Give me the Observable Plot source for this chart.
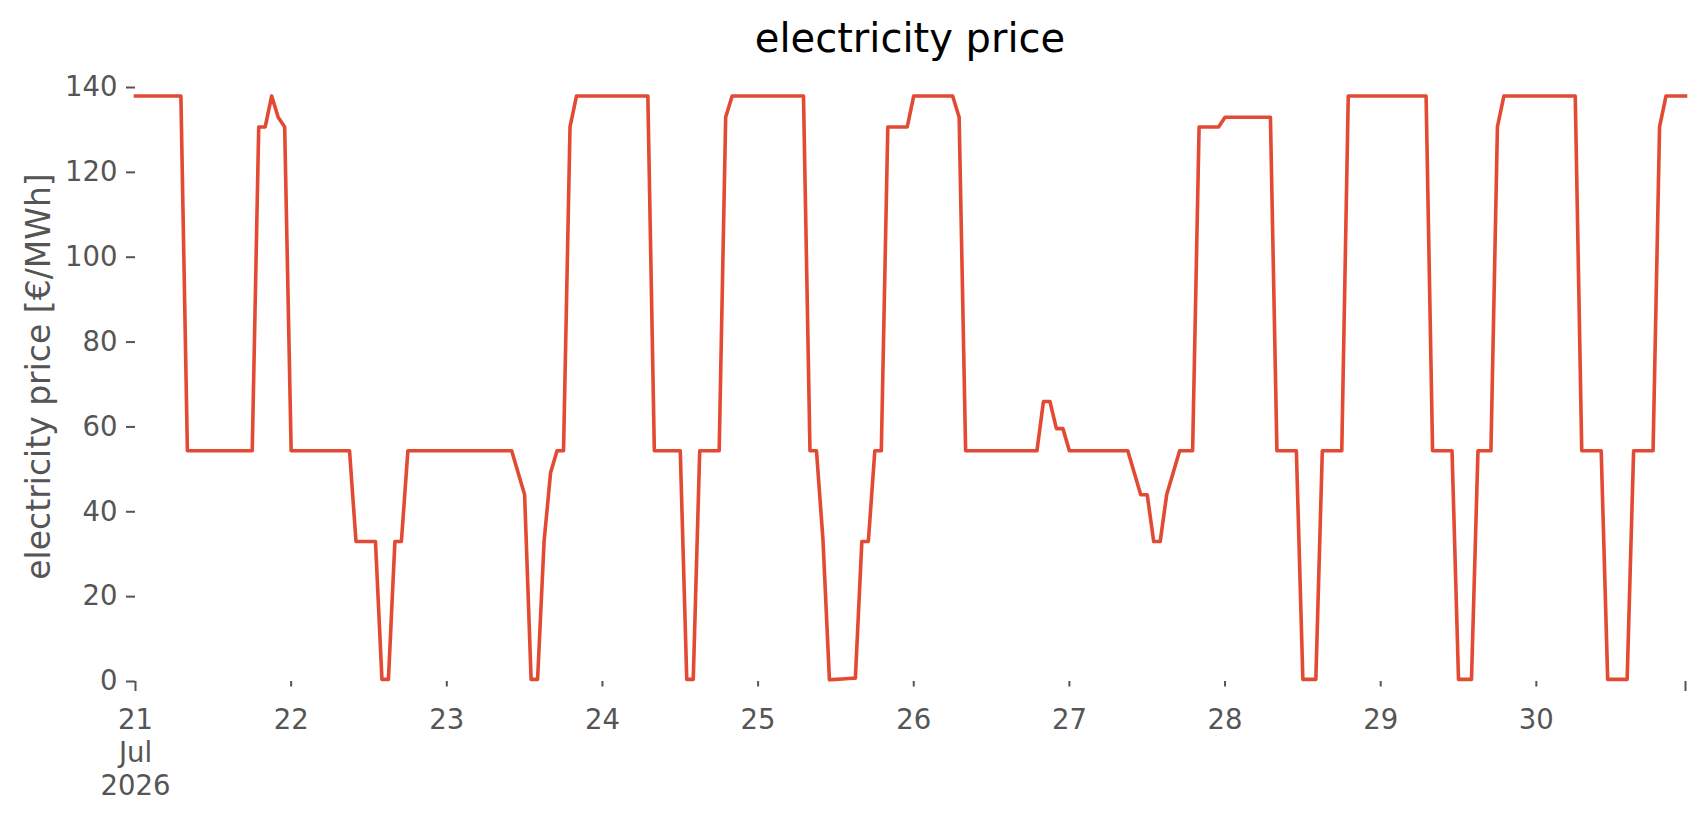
<!DOCTYPE html>
<html>
<head>
<meta charset="utf-8">
<script src="https://cdn.jsdelivr.net/npm/d3@7"></script>
<script src="https://cdn.jsdelivr.net/npm/@observablehq/plot@0.6"></script>
<style>
  html, body { margin: 0; padding: 0; background: #fff; }
  #title {
    margin-left: 135px; width: 1550px; height: 66px; line-height: 76px;
    text-align: center; font-family: "DejaVu Sans", sans-serif; font-size: 40px; color: #000;
    white-space: nowrap;
  }
  #chart svg { display: block; }
</style>
</head>
<body>
<div id="title">electricity price</div>
<div id="chart"></div>
<script>
// Hourly electricity prices [€/MWh], one array per day, starting 21 Jul 2026 00:00
const jul21 = [138,138,138,138,138,138,138,138, 54.4,54.4,54.4,54.4,54.4,54.4,54.4,54.4,54.4,54.4,54.4, 130.7,130.7,138,133,130.7];
const jul22 = [54.4,54.4,54.4,54.4,54.4,54.4,54.4,54.4,54.4,54.4, 33,33,33,33, 0.5,0.5, 33,33, 54.4,54.4,54.4,54.4,54.4,54.4];
const jul23 = [54.4,54.4,54.4,54.4,54.4,54.4,54.4,54.4,54.4,54.4,54.4, 49.2,44, 0.5,0.5, 33,49.2, 54.4,54.4, 130.7, 138,138,138,138];
const jul24 = [138,138,138,138,138,138,138,138, 54.4,54.4,54.4,54.4,54.4, 0.5,0.5, 54.4,54.4,54.4,54.4, 133, 138,138,138,138];
const jul25 = [138,138,138,138,138,138,138,138, 54.4,54.4, 33.5, 0.4,0.5,0.6,0.7,0.8, 33,33, 54.4,54.4, 130.7,130.7,130.7,130.7];
const jul26 = [138,138,138,138,138,138,138, 133, 54.4,54.4,54.4,54.4,54.4,54.4,54.4,54.4,54.4,54.4,54.4,54.4, 66,66, 59.6,59.6];
const jul27 = [54.4,54.4,54.4,54.4,54.4,54.4,54.4,54.4,54.4,54.4, 49.2,44,44, 33,33, 44,49.2, 54.4,54.4,54.4, 130.7,130.7,130.7,130.7];
const jul28 = [133,133,133,133,133,133,133,133, 54.4,54.4,54.4,54.4, 0.5,0.5,0.5, 54.4,54.4,54.4,54.4, 138,138,138,138,138];
const jul29 = [138,138,138,138,138,138,138,138, 54.4,54.4,54.4,54.4, 0.5,0.5,0.5, 54.4,54.4,54.4, 130.7, 138,138,138,138,138];
const jul30 = [138,138,138,138,138,138,138, 54.4,54.4,54.4,54.4, 0.5,0.5,0.5,0.5, 54.4,54.4,54.4,54.4, 130.7, 138,138,138,138];

const startTime = Date.UTC(2026, 6, 21, 0, 0);
const endTime = Date.UTC(2026, 6, 30, 23, 0);

// Axis ticks and labels
const yTicks = [0, 20, 40, 60, 80, 100, 120, 140];
const majorTickDates = [new Date(Date.UTC(2026, 6, 21)), new Date(endTime)];
const minorTickDates = [22, 23, 24, 25, 26, 27, 28, 29, 30].map(d => new Date(Date.UTC(2026, 6, d)));
const xTickLabels = ["21\nJul\n2026", "22", "23", "24", "25", "26", "27", "28", "29", "30"];
const xLabelDates = [new Date(Date.UTC(2026, 6, 21)), ...minorTickDates];

const titleText = "electricity price";
const yLabelText = "electricity price [€/MWh]";

const prices = [].concat(jul21, jul22, jul23, jul24, jul25, jul26, jul27, jul28, jul29, jul30);
const series = prices.map((p, i) => ({time: new Date(startTime + i * 3600e3), price: p}));
const xLabels = xLabelDates.map((d, i) => ({date: d, label: xTickLabels[i]}));

document.getElementById("title").textContent = titleText;

const chart = Plot.plot({
  width: 1706,
  height: 749,
  marginLeft: 135,
  marginRight: 21,
  marginTop: 21,
  marginBottom: 134,
  style: {fontFamily: "DejaVu Sans, sans-serif", background: "#fff", color: "#555", overflow: "visible"},
  x: {type: "utc", domain: [new Date(startTime), new Date(endTime)]},
  y: {domain: [0, 140]},
  marks: [
    Plot.axisY({ticks: yTicks, tickSize: 9, tickPadding: 9, fontSize: 27.5, color: "#555", strokeWidth: 2, label: null}),
    Plot.axisX({ticks: majorTickDates, tickSize: 10, tickFormat: () => "", color: "#555", strokeWidth: 2, label: null}),
    Plot.axisX({ticks: minorTickDates, tickSize: 5.5, tickFormat: () => "", color: "#555", strokeWidth: 2, label: null}),
    Plot.text(xLabels, {x: "date", text: "label", frameAnchor: "bottom", lineAnchor: "top", dy: 24.5, lineHeight: 1.2, fontSize: 27.5, fill: "#555"}),
    Plot.line(series, {x: "time", y: "price", stroke: "#E24A33", strokeWidth: 3.6, strokeLinejoin: "round", strokeLinecap: "square"}),
    Plot.text([yLabelText], {text: d => d, frameAnchor: "left", textAnchor: "middle", lineAnchor: "middle", dx: -96, dy: -8, rotate: -90, fontSize: 33, fill: "#555"})
  ]
});
document.getElementById("chart").appendChild(chart);
</script>
</body>
</html>
